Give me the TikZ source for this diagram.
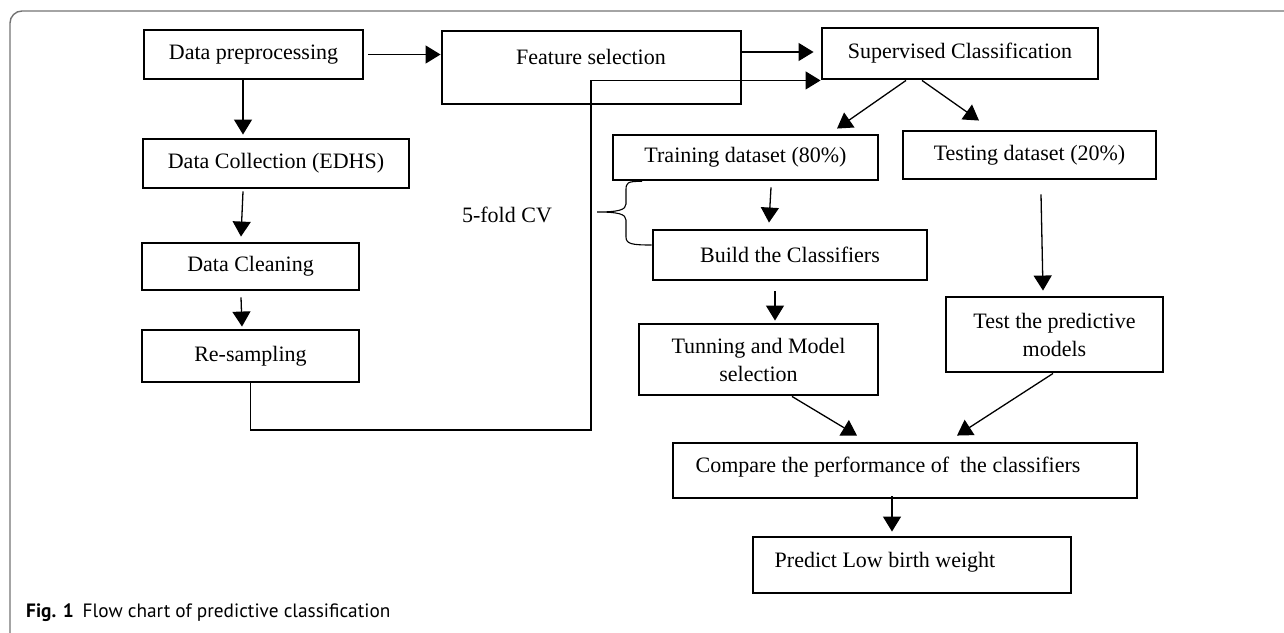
\documentclass[tikz,border=0pt]{standalone}
\usepackage{fontspec}
\setmainfont{Liberation Serif}
\newfontfamily\capfont{PT Sans}
\usetikzlibrary{arrows.meta}
\begin{document}
\begin{tikzpicture}[x=1pt,y=-1pt,
  box/.style={draw, line width=2.9pt, inner sep=0pt, align=center, font=\fontsize{22}{28}\selectfont},
  txt/.style={inner sep=0pt, align=center, font=\fontsize{22}{28}\selectfont},
  arr/.style={line width=1.3pt, -{Triangle[length=15pt,width=18pt]}},
  conn/.style={line width=1.2pt}]
\useasboundingbox (0,0) rectangle (1284,632);
\begin{scope}
\clip (0,0) rectangle (1284,632);
\draw[black!55, line width=1.4pt, rounded corners=12pt] (10,11) rectangle (1330,645);
\end{scope}
% nodes
\node[box, minimum width=219pt, minimum height=49pt] (dp) at (253.5,54.5) {Data preprocessing};
\node[box, minimum width=299pt, minimum height=73pt] (fs) at (591.5,67.5) {};
\node[txt] (fst) at (591,57) {Feature selection};
\node[box, minimum width=276pt, minimum height=51pt] (sc) at (960,53.5) {Supervised Classification};
\node[box, minimum width=266pt, minimum height=49pt] (dcol) at (276,163.5) {Data Collection (EDHS)};
\node[box, minimum width=217pt, minimum height=47pt] (dcl) at (250.5,266.5) {Data Cleaning};
\node[box, minimum width=217pt, minimum height=52pt] (rs) at (250.5,356) {Re-sampling};
\node[box, minimum width=265pt, minimum height=45pt] (tr) at (745.5,157.5) {Training dataset (80\%)};
\node[box, minimum width=253pt, minimum height=48pt] (te) at (1029.5,155) {Testing dataset (20\%)};
\node[box, minimum width=274pt, minimum height=50pt] (bc) at (790,255) {Build the Classifiers};
\node[box, minimum width=239pt, minimum height=71pt] (tm) at (758.5,359.5) {Tunning and Model\\selection};
\node[box, minimum width=217pt, minimum height=75pt] (tp) at (1054.5,334.5) {Test the predictive\\models};
\node[box, minimum width=464pt, minimum height=55pt] (cmp) at (905,470.5) {};
\node[txt] (cmpt) at (888,467) {Compare the performance of\ \ the classifiers};
\node[box, minimum width=318pt, minimum height=56pt] (pr) at (912,565) {};
\node[txt] (prt) at (885,562) {Predict Low birth weight};
\node[txt] (cv) at (507,215) {5-fold CV};
\node[inner sep=0pt, anchor=base west, font=\capfont\fontsize{19.3}{23}\selectfont] (cap) at (26,617) {\textbf{Fig. 1}\hspace{9pt}Flow chart of predictive classification};
% connectors
\draw[arr] ([xshift=4pt]dp.east) -- (dp.east -| fs.west);
\draw[arr] (fs.east |- 0,52) -- ([xshift=-7pt]sc.west |- 0,52);
\coordinate (c1) at (591,430);
\draw[arr] (rs.south) |- (c1) |- (sc.south west);
\draw[arr] (dp.south -| 243,0) -- ([yshift=3pt]dcol.north -| 243,0);
\draw[arr] ([yshift=-2pt]dcol.south -| 243,0) -- ([yshift=5pt]dcl.north -| 241,0);
\draw[arr] ([yshift=-6pt]dcl.south -| 241,0) -- ([yshift=2pt]rs.north -| 242,0);
\draw[arr] (sc.south -| 906,0) -- ([yshift=5pt]tr.north -| 837,0);
\draw[arr] (sc.south -| 922,0) -- ([yshift=9pt]te.north -| 979,0);
\draw[arr] ([yshift=-6pt]tr.south -| 771,0) -- ([yshift=6pt]bc.north -| 769,0);
\draw[arr] ([yshift=-10pt]bc.south -| 775,0) -- ([yshift=2pt]tm.north -| 775,0);
\draw[arr] ([yshift=-14pt]te.south -| 1041,0) -- ([yshift=5pt]tp.north -| 1043,0);
\draw[arr] (tm.south -| 792,0) -- ([yshift=6pt]cmp.north -| 857,0);
\draw[arr] (tp.south -| 1053,0) -- ([yshift=6pt]cmp.north -| 957,0);
\draw[arr] ([yshift=3pt]cmp.south -| 892,0) -- ([yshift=4pt]pr.north -| 892,0);
% brace
\draw[conn, line width=1.1pt] (tr.south west -| 642,0) .. controls (627,181) and (626,183) .. (626,190) -- (626,204)
  .. controls (626,210) and (618,212) .. (597,212)
  .. controls (618,212) and (626,214) .. (626,220) -- (626,237)
  .. controls (626,244) and (632,245) .. (bc.west |- 0,245);
\end{tikzpicture}
\end{document}
